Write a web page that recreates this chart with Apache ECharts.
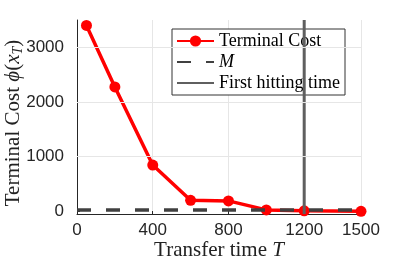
<!DOCTYPE html>
<html>
<head>
<meta charset="utf-8">
<script src="https://cdn.jsdelivr.net/npm/echarts@6/dist/echarts.min.js"></script>
<style>html,body{margin:0;padding:0;background:#fff;}#c{width:399px;height:266px;}</style>
</head>
<body>
<div id="c"></div>
<script>
const transferTimes = [50, 200, 400, 600, 800, 1000, 1200, 1500];
const terminalCost = [3400, 2275, 845, 200, 190, 25, 8, 0];
const mValue = 25;
const firstHittingTime = 1200;
const xTicks = [0, 400, 800, 1200, 1500];
const yTicks = [0, 1000, 2000, 3000];
const xRange = [0, 1500];
const yRange = [-50, 3500];

const chart = echarts.init(document.getElementById('c'), null, {renderer: 'canvas'});
const serif = '"Liberation Serif", "DejaVu Serif", serif';
const sans = '"Liberation Sans", Arial, sans-serif';
const hidden = {color: 'rgba(0,0,0,0)', borderWidth: 0};

chart.setOption({
  animation: false,
  grid: {left: 77, right: 38, top: 20, bottom: 52, outerBoundsMode: 'none', containLabel: false},
  legend: {
    orient: 'vertical',
    left: 172, top: 29,
    padding: [3, 5, 3, 4],
    itemWidth: 37, itemHeight: 14, itemGap: 3,
    backgroundColor: '#fff',
    borderColor: '#333', borderWidth: 1,
    data: [
      {name: 'Terminal Cost'},
      {name: 'M', itemStyle: hidden},
      {name: 'First hitting time', itemStyle: hidden}
    ],
    formatter: function (n) { return n === 'M' ? '{i|M}' : n; },
    textStyle: {fontFamily: serif, fontSize: 18, color: '#000',
      rich: {i: {fontFamily: serif, fontStyle: 'italic', fontSize: 18, color: '#000'}}}
  },
  xAxis: {
    type: 'value', min: xRange[0], max: xRange[1], interval: 400,
    name: 'Transfer time {i|T}', nameLocation: 'middle', nameGap: 26, nameMoveOverlap: false,
    nameTextStyle: {fontFamily: serif, fontSize: 21, color: '#222',
      rich: {i: {fontFamily: serif, fontStyle: 'italic', fontSize: 21, color: '#222'}}},
    axisLine: {show: true, onZero: false, lineStyle: {color: '#262626', width: 1}},
    axisTick: {show: true, inside: true, length: 3, lineStyle: {color: '#262626'}},
    axisLabel: {fontFamily: sans, fontSize: 17, color: '#262626', margin: 8,
      formatter: function (v) { return xTicks.indexOf(v) >= 0 ? String(v) : ''; }},
    splitLine: {show: true, lineStyle: {color: '#e6e6e6', width: 1}}
  },
  yAxis: {
    type: 'value', min: yRange[0], max: yRange[1], interval: 1000,
    name: 'Terminal Cost {i|ϕ}({i|x}{s|T})', nameLocation: 'middle', nameGap: 52, nameMoveOverlap: false,
    nameTextStyle: {fontFamily: serif, fontSize: 21, color: '#222', padding: [0, 12, 0, 0],
      rich: {i: {fontFamily: serif, fontStyle: 'italic', fontSize: 21, color: '#222'},
             s: {fontFamily: serif, fontStyle: 'italic', fontSize: 14, color: '#222', verticalAlign: 'bottom', padding: [10, 0, 0, 0]}}},
    axisLine: {show: true, onZero: false, lineStyle: {color: '#262626', width: 1}},
    axisTick: {show: true, inside: true, length: 3, customValues: yTicks, lineStyle: {color: '#262626'}},
    axisLabel: {fontFamily: sans, fontSize: 17, color: '#262626', margin: 13, customValues: yTicks,
      formatter: function (v) { return String(v); }},
    splitLine: {show: false}
  },
  series: [
    {
      name: 'Terminal Cost', type: 'line', z: 2,
      data: transferTimes.map((t, i) => [t, terminalCost[i]]),
      color: '#ff0000',
      lineStyle: {color: '#ff0000', width: 3.5},
      symbol: 'circle', symbolSize: 11,
      itemStyle: {color: '#ff0000'},
      markLine: {
        silent: true, symbol: 'none', label: {show: false},
        lineStyle: {color: '#e6e6e6', width: 1, type: 'solid'},
        data: yTicks.filter(v => v > 0).map(v => ({yAxis: v}))
      }
    },
    {
      name: 'M', type: 'line', z: 3,
      data: [[xRange[0], mValue], [xRange[1], mValue]],
      color: '#404040',
      lineStyle: {color: '#404040', width: 3.5, type: [14, 15]},
      symbol: 'none'
    },
    {
      name: 'First hitting time', type: 'line', z: 4,
      data: [[firstHittingTime, yRange[0]], [firstHittingTime, yRange[1]]],
      color: '#5f5f5f',
      lineStyle: {color: '#5f5f5f', width: 3},
      symbol: 'none'
    }
  ]
});
</script>
</body>
</html>
